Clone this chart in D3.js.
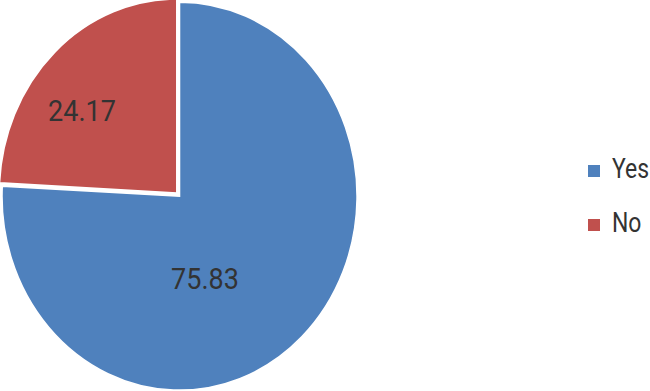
<!DOCTYPE html>
<html>
<head>
<meta charset="utf-8">
<script src="https://cdn.jsdelivr.net/npm/d3@7"></script>
<style>
  body { margin: 0; background: #fff; }
</style>
</head>
<body>
<script>
// Données
const categories = ["Yes", "No"];
const values = [75.83, 24.17];
const colors = ["#4F81BD", "#C0504D"];

const width = 650;
const height = 391;

// Pie is slightly stretched vertically in the reference
const cx = 178.5, cy = 195;
const rx = 177.5, ry = 194;
const explode = [1.5, 2.5];

const svg = d3.select('body')
  .append('svg')
  .attr('width', width)
  .attr('height', height)
  .style('font-family', 'Roboto, "Open Sans", sans-serif');

const pie = d3.pie().sort(null).value(d => d);
const arcs = pie(values);

const arc = d3.arc().innerRadius(0).outerRadius(rx);

const g = svg.append('g')
  .attr('transform', `translate(${cx},${cy}) scale(1,${ry / rx})`);

g.selectAll('path')
  .data(arcs)
  .enter()
  .append('path')
  .attr('d', arc)
  .attr('transform', (d, i) => {
    const a = (d.startAngle + d.endAngle) / 2;
    return `translate(${Math.sin(a) * explode[i]},${-Math.cos(a) * explode[i]})`;
  })
  .attr('fill', (d, i) => colors[i])
  .attr('stroke', '#fff')
  .attr('stroke-width', 1.5);

// Étiquettes de valeurs (police étroite simulée)
const labelPos = [[205, 289], [82, 121]];
svg.append('g')
  .selectAll('text')
  .data(arcs)
  .enter()
  .append('text')
  .attr('transform', (d, i) => `translate(${labelPos[i][0]},${labelPos[i][1]}) scale(0.9,1)`)
  .attr('text-anchor', 'middle')
  .attr('fill', '#333')
  .style('font-size', '30px')
  .text(d => d.data.toFixed(2));

// Légende
const legend = svg.append('g')
  .selectAll('g')
  .data(categories)
  .enter()
  .append('g')
  .attr('transform', (d, i) => `translate(588,${165 + i * 54})`);

legend.append('rect')
  .attr('width', 12)
  .attr('height', 12)
  .attr('fill', (d, i) => colors[i]);

legend.append('text')
  .attr('transform', 'translate(24,13) scale(0.82,1)')
  .attr('fill', '#333')
  .style('font-size', '28px')
  .text(d => d);
</script>
</body>
</html>
